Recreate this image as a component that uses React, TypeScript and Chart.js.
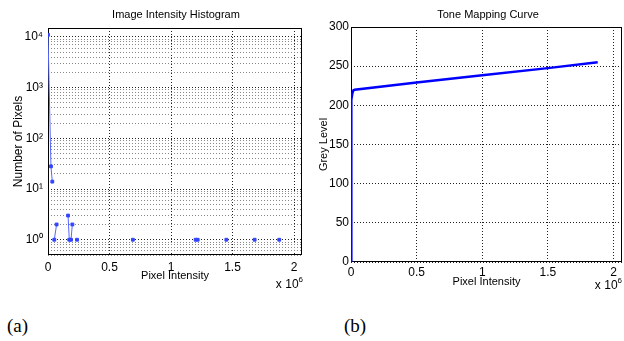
import React, { useEffect, useRef } from "react";
import { Chart, registerables } from "chart.js";
Chart.register(...registerables);

// ---- Data ----
const histIntensity = [0, 24000, 35000, 43000, 51000, 70000, 115000, 163000, 173000, 187000, 198000, 215000, 236000, 460000, 690000, 940000, 1200000, 1217000, 1330000, 1450000, 1560000, 1680000, 1780000, 1880000];
const histCount = [11000, 28, 14, null, 1, 2, null, 3, 1, 1, 2, null, 1, null, 1, null, 1, 1, null, 1, null, 1, null, 1];

const toneIntensity = [0, 500, 2000, 5000, 10000, 18000, 28000, 500000, 1000000, 1500000, 1880000];
const toneGrey = [0, 175, 195, 207, 215, 219, 220, 229, 238.5, 247.5, 255];

const xTickValues = [0, 500000, 1000000, 1500000, 2000000];
const xTickLabels = ["0", "0.5", "1", "1.5", "2"];
const logDecades = [0.1, 1, 10, 100, 1000];
const logMultipliers = [1, 2, 3, 4, 5, 6, 7, 8, 9];
const logMajorValues = [1, 10, 100, 1000, 10000];
const logMajorLabels = ["10⁰", "10¹", "10²", "10³", "10⁴"];
const greyTickValues = [0, 50, 100, 150, 200, 250, 300];

const FONT = "'Liberation Sans', Arial, Helvetica, sans-serif";
const X_MAX = 2065000;

const logTickValues = (() => {
  const out: number[] = [];
  logDecades.forEach((d) => logMultipliers.forEach((m) => {
    const v = +(d * m).toPrecision(3);
    if (v >= 0.5) out.push(v);
  }));
  out.push(10000);
  return out;
})();

function textPlugin(title: string, titleX: number, expRight: number, expY: number) {
  return {
    id: "decor" + title.replace(/\s/g, ""),
    beforeDatasetsDraw(chart: any) {
      const { ctx, chartArea } = chart;
      ctx.save();
      ctx.strokeStyle = "#000";
      ctx.lineWidth = 1;
      ctx.setLineDash([]);
      ctx.strokeRect(Math.round(chartArea.left) + 0.5, Math.round(chartArea.top) + 0.5,
        Math.round(chartArea.right - chartArea.left) - 1, Math.round(chartArea.bottom - chartArea.top) - 1);
      ctx.restore();
    },
    afterDraw(chart: any) {
      const { ctx } = chart;
      ctx.save();
      ctx.fillStyle = "#000";
      ctx.font = `11px ${FONT}`;
      ctx.textAlign = "center";
      ctx.textBaseline = "middle";
      ctx.fillText(title, titleX, 15);
      // x 10^6 multiplier
      ctx.font = `8px ${FONT}`;
      const supW = ctx.measureText("6").width;
      ctx.textAlign = "left";
      ctx.fillText("6", expRight - supW, expY - 5);
      ctx.font = `12px ${FONT}`;
      ctx.textAlign = "right";
      ctx.fillText("x 10", expRight - supW, expY);
      ctx.restore();
    },
  };
}

function HistChart() {
  const ref = useRef<HTMLCanvasElement>(null);
  useEffect(() => {
    const chart = new Chart(ref.current!, {
      type: "line",
      data: {
        datasets: [{
          data: histIntensity.map((x, i) => ({ x, y: histCount[i] })) as any,
          borderColor: "#5868ff",
          borderWidth: 1,
          backgroundColor: "#3344ff",
          pointBorderColor: "#3344ff",
          pointStyle: "rect",
          pointRadius: 2,
          pointBorderWidth: 1,
          spanGaps: false,
          tension: 0,
        }],
      },
      options: {
        animation: false,
        responsive: false,
        events: [],
        layout: { padding: { top: 28, right: 8, left: 0, bottom: 0 } },
        plugins: { legend: { display: false }, tooltip: { enabled: false }, title: { display: false } },
        scales: {
          x: {
            type: "linear",
            min: 0,
            max: X_MAX,
            afterFit: (s: any) => { s.height = 45; },
            afterBuildTicks: (s: any) => { s.ticks = xTickValues.map((v) => ({ value: v })); },
            ticks: {
              autoSkip: false,
              maxRotation: 0,
              padding: 5,
              color: "#000",
              font: { family: FONT, size: 12 },
              callback: (v: any) => { const i = xTickValues.indexOf(Number(v)); return i >= 0 ? xTickLabels[i] : ""; },
            },
            grid: { color: "#222", drawTicks: false, lineWidth: 1 },
            border: { display: false, dash: [1, 2] },
            title: { display: true, text: "Pixel Intensity", color: "#000", font: { family: FONT, size: 11 }, padding: { top: 0, bottom: 17 } },
          },
          y: {
            type: "logarithmic",
            min: 0.5,
            max: 15000,
            afterFit: (s: any) => { s.width = 48; },
            afterBuildTicks: (s: any) => { s.ticks = logTickValues.map((v) => ({ value: v })); },
            ticks: {
              autoSkip: false,
              padding: 5,
              color: "#000",
              font: { family: FONT, size: 12 },
              callback: (v: any) => { const i = logMajorValues.indexOf(Number(v)); return i >= 0 ? logMajorLabels[i] : ""; },
            },
            grid: {
              drawTicks: false,
              lineWidth: 1,
              color: (c: any) => (c.tick && logMajorValues.indexOf(c.tick.value) >= 0 ? "#222" : "#888"),
            },
            border: { display: false, dash: [1, 2] },
            title: { display: true, text: "Number of Pixels", color: "#000", font: { family: FONT, size: 12 }, padding: { top: 11, bottom: 0 } },
          },
        },
      },
      plugins: [textPlugin("Image Intensity Histogram", 176, 303, 285)],
    } as any);
    return () => chart.destroy();
  }, []);
  return <canvas ref={ref} width={310} height={300} style={{ position: "absolute", left: 0, top: 0, width: 310, height: 300 }} />;
}

function ToneChart() {
  const ref = useRef<HTMLCanvasElement>(null);
  useEffect(() => {
    const chart = new Chart(ref.current!, {
      type: "line",
      data: {
        datasets: [{
          data: toneIntensity.map((x, i) => ({ x, y: toneGrey[i] })),
          borderColor: "#0000ff",
          borderWidth: 2.5,
          pointRadius: 0,
          tension: 0,
        }],
      },
      options: {
        animation: false,
        responsive: false,
        events: [],
        layout: { padding: { top: 27, right: 2, left: 0, bottom: 0 } },
        plugins: { legend: { display: false }, tooltip: { enabled: false }, title: { display: false } },
        scales: {
          x: {
            type: "linear",
            min: 0,
            max: X_MAX,
            afterFit: (s: any) => { s.height = 38; },
            afterBuildTicks: (s: any) => { s.ticks = xTickValues.map((v) => ({ value: v })); },
            ticks: {
              autoSkip: false,
              maxRotation: 0,
              padding: 3,
              color: "#000",
              font: { family: FONT, size: 12 },
              callback: (v: any) => { const i = xTickValues.indexOf(Number(v)); return i >= 0 ? xTickLabels[i] : ""; },
            },
            grid: { color: "#222", drawTicks: false, lineWidth: 1 },
            border: { display: false, dash: [1, 2] },
            title: { display: true, text: "Pixel Intensity", color: "#000", font: { family: FONT, size: 11 }, padding: { top: 0, bottom: 11 } },
          },
          y: {
            type: "linear",
            min: 0,
            max: 300,
            afterFit: (s: any) => { s.width = 41; },
            afterBuildTicks: (s: any) => { s.ticks = greyTickValues.map((v) => ({ value: v })); },
            ticks: {
              autoSkip: false,
              padding: 2,
              color: "#000",
              font: { family: FONT, size: 12 },
            },
            grid: { color: "#222", drawTicks: false, lineWidth: 1 },
            border: { display: false, dash: [1, 2] },
            title: { display: true, text: "Grey Level", color: "#000", font: { family: FONT, size: 11 }, padding: { top: 7, bottom: 0 } },
          },
        },
      },
      plugins: [textPlugin("Tone Mapping Curve", 178, 312, 286)],
    } as any);
    return () => chart.destroy();
  }, []);
  return <canvas ref={ref} width={314} height={300} style={{ position: "absolute", left: 310, top: 0, width: 314, height: 300 }} />;
}

export default function App() {
  const labelStyle: React.CSSProperties = {
    position: "absolute", top: 315, fontFamily: "'Liberation Serif', 'Times New Roman', serif",
    fontSize: 19, lineHeight: "22px", color: "#000",
  };
  return (
    <div style={{ position: "fixed", left: 0, top: 0, width: 624, height: 341, background: "#fff", overflow: "hidden" }}>
      <HistChart />
      <ToneChart />
      <div style={{ ...labelStyle, left: 7 }}>(a)</div>
      <div style={{ ...labelStyle, left: 344 }}>(b)</div>
    </div>
  );
}
